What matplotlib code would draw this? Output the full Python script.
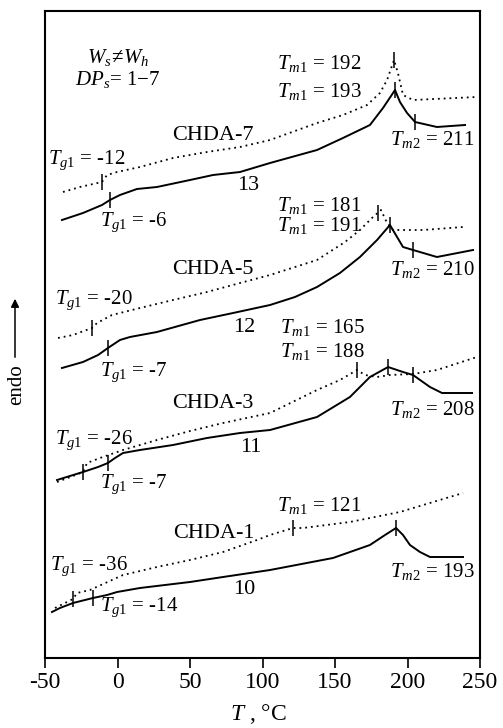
import matplotlib
matplotlib.use("Agg")
import matplotlib.pyplot as plt
import numpy as np

plt.rcParams['font.family'] = ['Liberation Serif', 'DejaVu Serif']
plt.rcParams['mathtext.fontset'] = 'custom'
plt.rcParams['mathtext.rm'] = 'Liberation Serif'
plt.rcParams['mathtext.it'] = 'Liberation Serif:italic'
plt.rcParams['axes.unicode_minus'] = False

# DSC curves, temperature (C) and heat flow (a.u., shifted)
# CHDA-7 (13)
t13 = [-38.3, -23.8, -10.7, -5.2, 1.7, 13.4, 27.2, 50.0, 65.9, 84.5, 105.2, 137.6,
       155.5, 174.1, 183.1, 191.4, 194.8, 199.7, 205.2, 220.3, 239.7]
h13 = [43.8, 44.5, 45.3, 45.8, 46.3, 46.9, 47.1, 47.8, 48.3, 48.6, 49.5, 50.8,
       52.0, 53.3, 55.0, 56.8, 55.6, 54.5, 53.6, 53.1, 53.3]
t7 = [-37.6, -25.9, -10.7, -7.2, -0.3, 15.5, 38.3, 61.7, 84.5, 105.2, 137.6,
      155.5, 172.1, 181.0, 185.9, 190.7, 193.4, 196.9, 203.8, 247.9]
h7 = [46.6, 47.1, 47.6, 48.3, 48.6, 49.1, 50.0, 50.6, 51.1, 51.8, 53.5,
      54.3, 55.3, 56.5, 57.8, 59.8, 58.5, 56.3, 55.8, 56.1]
# CHDA-5 (12)
t12 = [-38.3, -23.8, -13.4, -6.6, 1.7, 8.6, 27.2, 56.9, 79.7, 105.2, 122.4, 137.6,
       153.4, 167.2, 179.0, 187.9, 192.8, 196.9, 203.8, 220.3, 245.2]
h12 = [29.0, 29.6, 30.3, 31.0, 31.8, 32.1, 32.6, 33.8, 34.5, 35.3, 36.1, 37.1,
       38.5, 40.1, 41.8, 43.3, 42.1, 41.1, 40.8, 40.1, 40.8]
t5 = [-41.0, -30.7, -17.6, -14.1, -3.8, 15.5, 38.3, 61.7, 84.5, 105.2, 137.6,
      156.9, 167.2, 175.5, 181.7, 185.9, 190.0, 210.7, 238.3]
h5 = [32.0, 32.3, 33.0, 33.5, 34.3, 35.0, 35.8, 36.6, 37.5, 38.3, 39.8,
      41.6, 42.8, 44.0, 44.8, 43.5, 42.8, 42.8, 43.1]
# CHDA-3 (11)
t11 = [-41.7, -32.8, -23.8, -13.4, -6.6, -1.7, 3.8, 15.5, 38.3, 61.7, 84.5, 105.2,
       137.6, 160.3, 174.1, 186.6, 196.9, 203.8, 215.5, 223.8, 244.5]
h11 = [17.8, 18.2, 18.6, 19.1, 19.5, 20.0, 20.5, 20.8, 21.3, 22.0, 22.5, 22.8,
       24.1, 26.1, 28.1, 29.1, 28.6, 28.3, 27.1, 26.5, 26.5]
t3 = [-41.7, -30.7, -23.8, -21.0, -12.1, 3.8, 27.2, 50.0, 72.8, 105.2, 137.6,
      153.4, 165.2, 170.7, 179.0, 187.9, 203.8, 220.3, 247.9]
h3 = [17.6, 18.2, 18.6, 19.5, 20.0, 20.8, 21.8, 22.7, 23.5, 24.5, 26.8,
      27.8, 28.8, 28.3, 28.1, 28.3, 28.4, 28.8, 30.1]
# CHDA-1 (10)
t10 = [-45.2, -39.7, -30.7, -16.9, -7.2, -0.3, 15.5, 50.0, 72.8, 105.2, 148.6,
       174.1, 184.5, 192.1, 196.9, 201.7, 208.6, 215.5, 238.3]
h10 = [4.6, 5.0, 5.5, 6.0, 6.3, 6.6, 7.0, 7.6, 8.1, 8.8, 10.0,
       11.3, 12.3, 13.0, 12.3, 11.3, 10.6, 10.1, 10.1]
t1 = [-43.1, -30.7, -27.9, -19.0, 3.8, 27.2, 50.0, 72.8, 96.2, 105.2, 121.0,
      127.9, 160.3, 194.8, 238.3]
h1 = [5.0, 5.9, 6.5, 6.8, 8.3, 9.1, 9.8, 10.6, 11.8, 12.3, 13.0,
      13.0, 13.6, 14.6, 16.5]

# transition marks (temperatures where the short bars sit)
marks13 = [-5.2, 191.4, 205.2]
marks7 = [-10.7, 190.7]
marks12 = [-6.6, 187.9, 203.8]
marks5 = [-17.6, 179.7]
marks11 = [-6.6, 186.6, 203.8]
marks3 = [-23.8, 165.2]
marks10 = [-16.9, 192.1]
marks1 = [-30.7, 121.0]

labels = [r'$W_{s}\!\neq\!W_{h}$', r'$DP_{s}$= 1$-$7',
          'CHDA-7', '13', r'$T_{g1}$ = -12', r'$T_{g1}$ = -6',
          r'$T_{m1}$ = 192', r'$T_{m1}$ = 193', r'$T_{m2}$ = 211',
          'CHDA-5', '12', r'$T_{g1}$ = -20', r'$T_{g1}$ = -7',
          r'$T_{m1}$ = 181', r'$T_{m1}$ = 191', r'$T_{m2}$ = 210',
          'CHDA-3', '11', r'$T_{g1}$ = -26', r'$T_{g1}$ = -7',
          r'$T_{m1}$ = 165', r'$T_{m1}$ = 188', r'$T_{m2}$ = 208',
          'CHDA-1', '10', r'$T_{g1}$ = -36', r'$T_{g1}$ = -14',
          r'$T_{m1}$ = 121', r'$T_{m2}$ = 193']
lab_x = [-21.0, -29.3,
         37.6, 82.4, -47.9, -12.1, 110.0, 110.0, 187.9,
         37.6, 79.7, -43.1, -12.1, 110.0, 110.0, 187.9,
         37.6, 84.5, -43.1, -12.1, 112.1, 112.1, 187.9,
         38.3, 79.7, -46.6, -12.1, 110.0, 187.9]
lab_y = [60.0, 57.8,
         52.3, 47.3, 49.8, 43.6, 59.5, 56.7, 51.8,
         38.8, 33.0, 35.8, 28.6, 45.3, 43.3, 38.8,
         25.5, 21.1, 21.8, 17.4, 33.0, 30.6, 24.9,
         12.4, 6.8, 9.2, 5.1, 15.3, 8.6]

fig = plt.figure(figsize=(5.03, 7.28), dpi=100)
ax = fig.add_axes([45 / 503, 70 / 728, 435 / 503, 647 / 728])

solid = [(t13, h13, marks13), (t12, h12, marks12), (t11, h11, marks11), (t10, h10, marks10)]
dotted = [(t7, h7, marks7), (t5, h5, marks5), (t3, h3, marks3), (t1, h1, marks1)]

for t, h, m in solid:
    ax.plot(t, h, color='black', lw=1.4, solid_joinstyle='round')
    yc = np.interp(m, t, h)
    ax.vlines(m, yc - 0.8, yc + 0.8, color='black', lw=1.1)
for t, h, m in dotted:
    ax.plot(t, h, color='black', lw=1.3, linestyle=(0, (1, 2.2)))
    yc = np.interp(m, t, h)
    ax.vlines(m, yc - 0.8, yc + 0.8, color='black', lw=1.1)

for s, x, y in zip(labels, lab_x, lab_y):
    size = 16 if s.startswith('CHDA') or s in ('10', '11', '12', '13') else 15
    ax.text(x, y, s, fontsize=size, ha='left', va='center')

ax.set_xlim(-50, 250)
ax.set_ylim(0, 64.7)
ax.set_xticks([-50, 0, 50, 100, 150, 200, 250])
ax.set_yticks([])
ax.tick_params(axis='x', direction='out', length=7, width=1.2, labelsize=17, pad=3)
for sp in ax.spines.values():
    sp.set_linewidth(1.5)

fig.text(258 / 503, 14 / 728, r'$T$ , °C', fontsize=17, ha='center', va='center')
fig.text(17 / 503, 1 - 385 / 728, 'endo', fontsize=15, rotation=90, ha='center', va='center')
ax.annotate('', xy=(15 / 503, 1 - 296 / 728), xytext=(15 / 503, 1 - 360 / 728),
            xycoords='figure fraction', textcoords='figure fraction',
            arrowprops=dict(arrowstyle='-|>', color='black', lw=1.1, mutation_scale=12))

plt.savefig('out.png', dpi=100)
